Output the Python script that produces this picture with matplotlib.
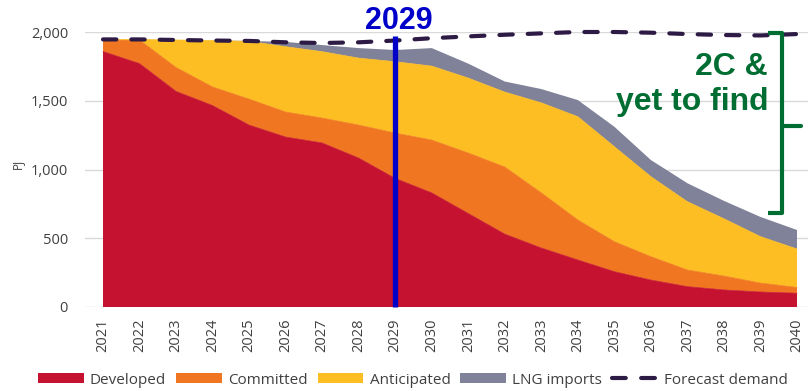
import matplotlib
matplotlib.use("Agg")
import matplotlib.pyplot as plt
from matplotlib.patches import Patch
from matplotlib.lines import Line2D
import numpy as np

years = [str(y) for y in range(2021, 2041)]
developed = [1858, 1770, 1568, 1465, 1323, 1236, 1193, 1083, 935, 830, 680, 530, 429, 342, 257, 196, 148, 124, 109, 100]
committed = [83, 171, 174, 135, 189, 182, 181, 240, 330, 384, 440, 488, 401, 291, 218, 170, 121, 101, 65, 42]
anticipated = [4, 4, 200, 338, 420, 475, 483, 487, 519, 538, 545, 545, 655, 751, 691, 582, 497, 417, 338, 280]
lng_imports = [0, 0, 0, 0, 3, 35, 48, 73, 85, 131, 105, 77, 100, 121, 145, 121, 134, 130, 143, 138]
forecast_demand = [1946, 1946, 1942, 1938, 1935, 1925, 1920, 1925, 1938, 1955, 1968, 1980, 1990, 2000, 2000, 1995, 1985, 1978, 1975, 1985]
yticks = [0, 500, 1000, 1500, 2000]
ytick_labels = ["0", "500", "1,000", "1,500", "2,000"]
series_names = ["Developed", "Committed", "Anticipated", "LNG imports"]
series_colors = ["#C41230", "#F07622", "#FDBE24", "#808299"]
demand_color = "#2D1B45"
marker_year = "2029"

W, H = 808, 391
fig = plt.figure(figsize=(W / 100, H / 100), dpi=100)
ax = fig.add_axes([84.75 / W, (H - 307) / H, 730.5 / W, 275 / H])

x = np.arange(len(years))
ax.stackplot(x, developed, committed, anticipated, lng_imports,
             colors=series_colors, edgecolor=None, linewidth=0, zorder=2)
# thin seam lines between lower layers (avoid white antialias gaps)
cum = np.cumsum([developed, committed, anticipated, lng_imports], axis=0)
for i, c in enumerate(series_colors[:3]):
    ax.plot(x, cum[i], color=c, lw=0.5, zorder=2.1)

ax.plot(x, forecast_demand, color=demand_color, lw=3, dashes=(3.2, 3.6),
        dash_capstyle="round", zorder=4, clip_on=False)

ax.set_xlim(-0.5, len(years) - 0.5)
ax.set_ylim(0, 2000)
ax.set_yticks(yticks)
ax.set_yticklabels(ytick_labels)
ax.set_xticks(x)
ax.set_xticklabels(years, rotation=90)
ax.grid(axis="y", color="#D9D9D9", lw=1, zorder=0)
ax.set_axisbelow(True)
for s in ax.spines.values():
    s.set_visible(False)
ax.tick_params(axis="both", length=0, colors="#404040", labelsize=10.5)
ax.tick_params(axis="y", pad=12)
ax.tick_params(axis="x", pad=8)
for lab in ax.get_xticklabels() + ax.get_yticklabels():
    lab.set_family("Open Sans")

fig.text(17 / W, 1 - 164 / H, "PJ", rotation=90, ha="center", va="center",
         fontsize=8.5, color="#404040", family="Open Sans")

# 2029 marker
mi = years.index(marker_year)
ax.plot([mi, mi], [0, 1971], color="#0000C8", lw=3.8, zorder=5,
        solid_capstyle="butt", clip_on=False)
fig.text(399 / W, 1 - 29 / H, marker_year, ha="center", va="baseline",
         fontsize=22, fontweight="bold", color="#0000C8", family="Liberation Sans")

# green bracket annotation
green = "#006E33"
bx0, bx1, bx2 = 18.22, 18.60, 19.10
ytop, ymid, ybot = 1993, 1316, 684
ax.plot([bx0, bx1, bx1, bx0], [ytop, ytop, ybot, ybot], color=green, lw=3,
        solid_joinstyle="round", solid_capstyle="butt", clip_on=False, zorder=6)
ax.plot([bx1, bx2], [ymid, ymid], color=green, lw=3,
        solid_capstyle="round", clip_on=False, zorder=6)
fig.text(768 / W, 1 - 75 / H, "2C &", ha="right", va="baseline",
         fontsize=23, fontweight="bold", color=green, family="Liberation Sans")
fig.text(768 / W, 1 - 110 / H, "yet to find", ha="right", va="baseline",
         fontsize=23, fontweight="bold", color=green, family="Liberation Sans")

handles = [Patch(facecolor=c, edgecolor="none", label=n) for c, n in zip(series_colors, series_names)]
handles.append(Line2D([0], [0], color=demand_color, lw=3, dashes=(3.3, 3.7),
                      dash_capstyle="round", label="Forecast demand"))
leg = fig.legend(handles=handles, loc="center", bbox_to_anchor=(413 / W, 1 - 380 / H),
                 ncol=5, frameon=False, handlelength=3.0, handleheight=0.65,
                 handletextpad=0.4, columnspacing=0.65,
                 prop={"family": "Open Sans", "size": 11})
for t in leg.get_texts():
    t.set_color("#404040")

fig.savefig("out.png", dpi=100)
